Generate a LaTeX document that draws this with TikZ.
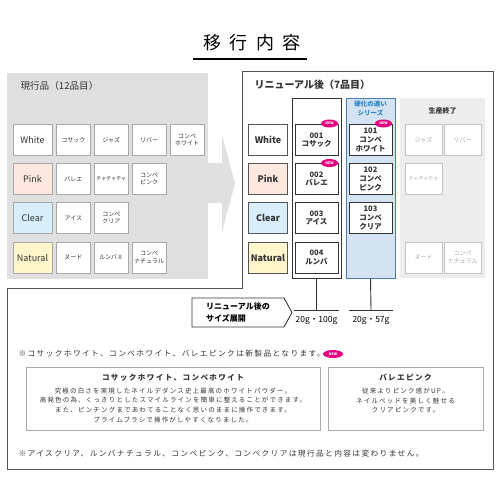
\documentclass[tikz,border=0pt]{standalone}
\usepackage{fontspec}
\usepackage{tikz}
\usepackage{xcolor}
\usetikzlibrary{positioning, shapes.geometric, shapes.symbols}
\setmainfont{Noto Sans CJK JP}
\newfontfamily\spaced[LetterSpace=18]{Noto Sans CJK JP}
\newfontfamily\titlefont[LetterSpace=45]{Noto Sans CJK JP}
\definecolor{panelgray}{HTML}{E0E0E0}
\definecolor{endgray}{HTML}{EDEDED}
\definecolor{boxgray}{HTML}{A8A8A8}
\definecolor{framegray}{HTML}{555555}
\definecolor{darkline}{HTML}{333333}
\definecolor{textdark}{HTML}{333333}
\definecolor{endline}{HTML}{C4C4C4}
\definecolor{endtext}{HTML}{ABABAB}
\definecolor{pinkfill}{HTML}{FCE8DF}
\definecolor{clearfill}{HTML}{D8EEFA}
\definecolor{naturalfill}{HTML}{FFF6CC}
\definecolor{seriesfill}{HTML}{D4E3F1}
\definecolor{seriesline}{HTML}{4A7DB5}
\definecolor{seriesblue}{HTML}{2A85C8}
\definecolor{newpink}{HTML}{E4007F}
\definecolor{infoline}{HTML}{AAAAAA}

\begin{document}
\begin{tikzpicture}[x=1pt, y=-1pt,
  box/.style={draw=boxgray, fill=white, minimum width=34pt, minimum height=31pt, inner sep=1pt, align=center, text=textdark, font=\fontsize{6}{7.5}\selectfont},
  colbox/.style={box, minimum width=39pt, font=\fontsize{9}{10}\selectfont},
  rowbox/.style={colbox, draw=framegray, font=\bfseries\fontsize{9}{10}\selectfont},
  itembox/.style={box, draw=darkline, line width=0.9pt, minimum width=43pt, text=darkline, font=\bfseries\fontsize{7.5}{8.6}\selectfont},
  endbox/.style={box, draw=endline, minimum width=37pt, text=endtext},
  group/.style={draw=darkline, line width=0.9pt, fill=white, minimum width=49pt, minimum height=180pt},
  newtag/.style={ellipse, fill=newpink, text=white, minimum width=17pt, minimum height=8pt, inner sep=0pt, font=\bfseries\fontsize{3.5}{4}\selectfont},
  size/.style={anchor=north, minimum width=44pt, minimum height=20pt, inner sep=0pt, text=black, font=\fontsize{8.5}{10}\selectfont},
  stem/.style={darkline, line width=0.9pt},
  infobox/.style={draw=infoline, line width=0.9pt, minimum height=63pt, align=center, text=textdark, font=\spaced\fontsize{6.5}{9.7}\selectfont},
  note/.style={anchor=west, text=textdark, font=\spaced\fontsize{7.7}{9}\selectfont}
]
\useasboundingbox (0,0) rectangle (500,500);

% title
\node[font=\titlefont\fontsize{18}{20}\selectfont] (title) at (252,43) {移行内容};
\draw[line width=1.8pt] (193,59) -- (307,59);

% current line-up
\node[fill=panelgray, anchor=north west, minimum width=201pt, minimum height=206pt, inner sep=0pt] (oldpanel) at (7,73) {};
\node[anchor=west, text=textdark, font=\fontsize{9.6}{11}\selectfont] (oldtitle) at (17,86) {現行品（12品目）};

\node[colbox] (oW) at (32.5,140) {White};
\node[box, right=4pt of oW] (o11) {コサック};
\node[box, right=3.5pt of o11] (o12) {ジャズ};
\node[box, right=3.5pt of o12] (o13) {リバー};
\node[box, right=3.5pt of o13] (o14) {コンペ\\ホワイト};

\node[colbox, fill=pinkfill] (oP) at (32.5,179) {Pink};
\node[box, right=4pt of oP] (o21) {バレエ};
\node[box, right=3.5pt of o21, font=\fontsize{5}{6}\selectfont] (o22) {チャチャチャ};
\node[box, right=3.5pt of o22] (o23) {コンペ\\ピンク};

\node[colbox, fill=clearfill] (oC) at (32.5,218) {Clear};
\node[box, right=4pt of oC] (o31) {アイス};
\node[box, right=3.5pt of o31] (o32) {コンペ\\クリア};

\node[colbox, fill=naturalfill] (oN) at (32.5,257.5) {Natural};
\node[box, right=4pt of oN] (o41) {ヌード};
\node[box, right=3.5pt of o41] (o42) {ルンバⅡ};
\node[box, right=3.5pt of o42] (o43) {コンペ\\ナチュラル};

% big arrow
\fill[panelgray] (207,163) -- (222,163) -- (222,135) -- (235,183.5) -- (222,232) -- (222,203) -- (207,203) -- cycle;

% frame
\draw[framegray, line width=1pt] (242,72) -- (493,72) -- (493,469) -- (7,469) -- (7,288) -- (242,288) -- cycle;

% renewal line-up
\node[anchor=west, text=textdark, font=\bfseries\fontsize{10}{12}\selectfont] (newtitle) at (251,85) {リニューアル後（7品目）};

\node[rowbox] (rW) at (268,140) {White};
\node[rowbox, fill=pinkfill] (rP) at (268,179) {Pink};
\node[rowbox, fill=clearfill] (rC) at (268,218) {Clear};
\node[rowbox, fill=naturalfill] (rN) at (268,257.5) {Natural};

\node[group] (g1) at (316.5,188) {};
\node[group, draw=seriesline, fill=seriesfill] (g2) at (370.5,188) {};
\node[fill=endgray, minimum width=85pt, minimum height=180pt] (g3) at (442.5,188) {};

\node[text=seriesblue, align=center, font=\bfseries\fontsize{6.5}{8.5}\selectfont] (g2head) at (370.5,108.5) {硬化の速い\\シリーズ};
\node[text=textdark, font=\bfseries\fontsize{7}{8}\selectfont] (g3head) at (442.5,111) {生産終了};

\node[itembox] (n1) at (316.5,140) {001\\コサック};
\node[itembox] (n2) at (316.5,179) {002\\バレエ};
\node[itembox] (n3) at (316.5,218) {003\\アイス};
\node[itembox] (n4) at (316.5,257.5) {004\\ルンバ};

\node[itembox] (h1) at (370.5,140) {101\\コンペ\\ホワイト};
\node[itembox] (h2) at (370.5,179) {102\\コンペ\\ピンク};
\node[itembox] (h3) at (370.5,218) {103\\コンペ\\クリア};

\node[endbox] (e1) at (423.5,140) {ジャズ};
\node[endbox] (e2) at (462.5,140) {リバー};
\node[endbox, font=\fontsize{5}{6}\selectfont] (e3) at (423.5,179) {チャチャチャ};
\node[endbox] (e4) at (423.5,257.5) {ヌード};
\node[endbox] (e5) at (462.5,257.5) {コンペ\\ナチュラル};

\node[newtag] (new1) at (329.5,123.5) {NEW};
\node[newtag] (new2) at (329.5,163) {NEW};
\node[newtag] (new3) at (383.5,123.5) {NEW};

% sizes
\node[signal, signal to=east, signal pointer angle=122, draw=darkline, line width=0.9pt, minimum width=100pt, minimum height=29pt, align=left, text=black, font=\bfseries\fontsize{8}{12.5}\selectfont] (sizeflag) at (238,312.5) {リニューアル後の\\サイズ展開};

\node[size] (sz1) at (316.5,310) {20g・100g};
\node[size] (sz2) at (371,310) {20g・57g};
\draw[stem] (g1.south) -- (sz1.north);
\draw[stem] (sz1.north west) -- (sz1.north east);
\draw[stem] (g2.south) -- (sz2.north);
\draw[stem] (sz2.north west) -- (sz2.north east);

% notes
\node[note] (note1) at (15,354) {※コサックホワイト、コンペホワイト、バレエピンクは新製品となります。};
\node[newtag, minimum width=20pt] (new4) at (333,354) {NEW};

\node[infobox, minimum width=294pt] (info1) at (173,398.5) {{\bfseries\fontsize{7.6}{9.7}\selectfont コサックホワイト、コンペホワイト}\\[3pt]
  究極の白さを実現したネイルデダンス史上最高のホワイトパウダー。\\
  高発色の為、くっきりとしたスマイルラインを簡単に整えることができます。\\
  また、ピンチングまであわてることなく思いのままに操作できます。\\
  プライムブラシで操作がしやすくなりました。};
\node[infobox, minimum width=155pt] (info2) at (405.5,398.5) {{\bfseries\fontsize{7.6}{9.7}\selectfont バレエピンク}\\[3pt]
  従来よりピンク感がUP。\\
  ネイルベッドを美しく魅せる\\
  クリアピンクです。\\
  \phantom{ク}};

\node[note] (note2) at (15,454) {※アイスクリア、ルンバナチュラル、コンペピンク、コンペクリアは現行品と内容は変わりません。};

\end{tikzpicture}
\end{document}
